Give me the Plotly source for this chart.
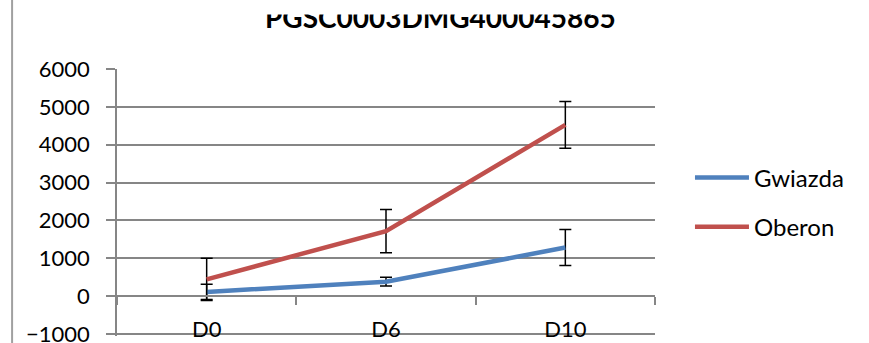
import plotly.graph_objects as go

categories = ["D0", "D6", "D10"]
gwiazda = [115, 385, 1285]
gwiazda_err = [200, 115, 475]
oberon = [445, 1720, 4525]
oberon_err = [555, 570, 615]
y_ticks = [-1000, 0, 1000, 2000, 3000, 4000, 5000, 6000]
title_text = "PGSC0003DMG400045865"

FONT = "Lato"
GRID = "#868686"
Y_MIN, Y_MAX = -1050, 6000

fig = go.Figure()
fig.add_trace(go.Scatter(
    x=categories, y=gwiazda, name="Gwiazda", mode="lines",
    line=dict(color="#4F81BD", width=4.5),
    error_y=dict(type="data", array=gwiazda_err, color="black", thickness=1.5, width=6),
    legendgroup="g",
))
fig.add_trace(go.Scatter(
    x=categories, y=oberon, name="Oberon", mode="lines",
    line=dict(color="#C0504D", width=4.5),
    error_y=dict(type="data", array=oberon_err, color="black", thickness=1.5, width=6),
    legendgroup="o",
))

n = len(categories)
# invisible helper so that the overlay axis exists
fig.add_trace(go.Scatter(x=[-0.5, n - 0.5], y=[None, None], xaxis="x2", showlegend=False, hoverinfo="skip"))

fig.update_layout(
    width=869, height=343,
    margin=dict(l=117, r=214, t=69, b=7, autoexpand=False),
    paper_bgcolor="white", plot_bgcolor="white",
    font=dict(family=FONT, size=22, color="black"),
    showlegend=True,
    legend=dict(x=1.065, xanchor="left", y=0.50, yanchor="middle", itemwidth=54,
                font=dict(family=FONT, size=24, color="black"),
                tracegroupgap=15, bgcolor="rgba(0,0,0,0)"),
    xaxis=dict(type="category", categoryarray=categories, range=[-0.5, n - 0.5],
               showgrid=False, zeroline=False, showline=False, ticks="", automargin=False,
               ticklabelstandoff=-22, ticklabeloverflow="allow",
               tickfont=dict(family=FONT, size=22, color="black")),
    xaxis2=dict(overlaying="x", anchor="free", position=(0 - Y_MIN) / (Y_MAX - Y_MIN),
                range=[-0.5, n - 0.5],
                tickvals=[i - 0.5 for i in range(n + 1)], showticklabels=False,
                showline=True, linecolor=GRID, linewidth=1.5, automargin=False,
                ticks="outside", ticklen=8, tickcolor=GRID, tickwidth=1.5,
                showgrid=False, zeroline=False),
    yaxis=dict(range=[Y_MIN, Y_MAX], tickvals=y_ticks, showgrid=True, gridcolor=GRID, gridwidth=1.5,
               zeroline=False, showline=True, linecolor=GRID, linewidth=1.5, automargin=False,
               ticks="outside", ticklen=9, tickcolor=GRID, tickwidth=1.5,
               ticklabelstandoff=12, ticklabeloverflow="allow",
               tickfont=dict(family=FONT, size=22, color="black")),
)

# left frame border
fig.add_shape(type="line", xref="paper", yref="paper", x0=-0.195, x1=-0.195, y0=-0.2, y1=1.4,
              line=dict(color="#A0A0A0", width=2))

# clipped title
fig.add_annotation(text="<b>" + title_text + "</b>", xref="paper", yref="paper",
                   x=0.6004, y=1.0 + (69 - 17) / 267, xanchor="center", yanchor="middle",
                   showarrow=False, font=dict(family=FONT, size=28, color="black"))
fig.add_annotation(text=" ", xref="paper", yref="paper", x=0.6004, y=1.0 + 69 / 267,
                   xanchor="center", yanchor="top", width=420, height=13, borderpad=0,
                   bgcolor="white", showarrow=False)

fig.write_html("out.html", config={"displayModeBar": False},
               post_script="document.body.style.margin='0';document.body.style.overflow='hidden';")
